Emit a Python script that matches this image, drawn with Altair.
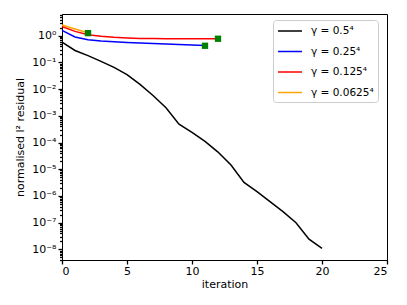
import altair as alt
import pandas as pd

series = ["γ = 0.5⁴", "γ = 0.25⁴", "γ = 0.125⁴", "γ = 0.0625⁴"]
colors = ["#000000", "#0000ff", "#ff0000", "#ffa500"]

black = [0.58, 0.28, 0.18, 0.11, 0.065, 0.035, 0.015, 0.0058, 0.002, 4.9e-4,
         2.4e-4, 1.1e-4, 4.4e-5, 1.45e-5, 3.2e-6, 1.45e-6, 6.1e-7, 2.6e-7,
         1.0e-7, 2.4e-8, 1.1e-8]
blue = [1.58, 0.9, 0.71, 0.63, 0.59, 0.56, 0.53, 0.51, 0.49, 0.47, 0.45, 0.43]
red = [2.2, 1.45, 1.09, 0.95, 0.87, 0.82, 0.79, 0.78, 0.77, 0.77, 0.77, 0.77, 0.77]
orange = [2.5, 1.78, 1.3]

marker_x = [2, 11, 12]
marker_y = [1.25, 0.42, 0.77]

rows = []
for name, vals in zip(series, [black, blue, red, orange]):
    for i, v in enumerate(vals):
        rows.append({"series": name, "iteration": i, "value": v})
df = pd.DataFrame(rows)
mk = pd.DataFrame({"iteration": marker_x, "value": marker_y})

ticks = sorted([10.0 ** k for k in range(-8, 1)] +
               [m * 10.0 ** k for k in range(-9, 1) for m in range(2, 10)
                if 4e-9 <= m * 10.0 ** k <= 6.5])
sup = {0: "⁰", -1: "⁻¹", -2: "⁻²", -3: "⁻³", -4: "⁻⁴", -5: "⁻⁵", -6: "⁻⁶", -7: "⁻⁷", -8: "⁻⁸"}
lg = "log(datum.value)/LN10"
is_major = f"abs({lg} - round({lg})) < 0.001"
label_expr = f"{is_major} ? (" + " : ".join(
    f"round({lg}) == {k} ? '10{v}'" for k, v in sup.items()) + " : '') : ''"

FONT = "DejaVu Sans"
xscale = alt.Scale(domain=[0, 25], nice=False, zero=False)
yscale = alt.Scale(type="log", domain=[4e-9, 6.5], nice=False)

lines = alt.Chart(df).mark_line(strokeWidth=1.5).encode(
    x=alt.X("iteration:Q", scale=xscale,
            axis=alt.Axis(title="iteration", values=[0, 5, 10, 15, 20, 25], format="d",
                          grid=False, ticks=True, tickSize=4, tickWidth=1.3, tickColor="black",
                          labelFontSize=11, titleFontSize=11,
                          labelPadding=1, titlePadding=2, domain=True, domainColor="black",
                          labelFont=FONT, titleFont=FONT, labelColor="black",
                          titleColor="black", titleFontWeight="normal")),
    y=alt.Y("value:Q", scale=yscale,
            axis=alt.Axis(title="normalised l² residual", values=ticks, labelExpr=label_expr,
                          labelOverlap=False, ticks=True, tickWidth=1.3, tickColor="black",
                          tickSize={"condition": {"test": is_major, "value": 4}, "value": 2.5},
                          grid=False, labelFontSize=11, titleFontSize=11,
                          labelPadding=2, titlePadding=6, domain=True, domainColor="black",
                          labelFont=FONT, titleFont=FONT, labelColor="black",
                          titleColor="black", titleFontWeight="normal")),
    color=alt.Color("series:N", scale=alt.Scale(domain=series, range=colors),
                    sort=series,
                    legend=alt.Legend(title=None, orient="none", legendX=211, legendY=6,
                                      symbolType="M-1,0H3", symbolSize=144,
                                      symbolStrokeWidth=1.5, labelFontSize=10.5,
                                      labelFont=FONT, labelColor="black",
                                      fillColor="white", strokeColor="#cccccc",
                                      cornerRadius=3, padding=4, rowPadding=7.5,
                                      labelOffset=20)),
    order=alt.Order("iteration:Q"),
    detail="series:N",
)

markers = alt.Chart(mk).mark_square(size=40, color="#008000", opacity=1).encode(
    x=alt.X("iteration:Q", scale=xscale),
    y=alt.Y("value:Q", scale=yscale),
)

chart = alt.layer(lines, markers).properties(
    width=325, height=246,
    autosize=alt.AutoSizeParams(type="none"),
    padding={"left": 54, "top": 6, "right": 12, "bottom": 37},
).configure_view(stroke="black", strokeWidth=1)

chart.save("out.html", embed_options={"renderer": "svg", "actions": False})
